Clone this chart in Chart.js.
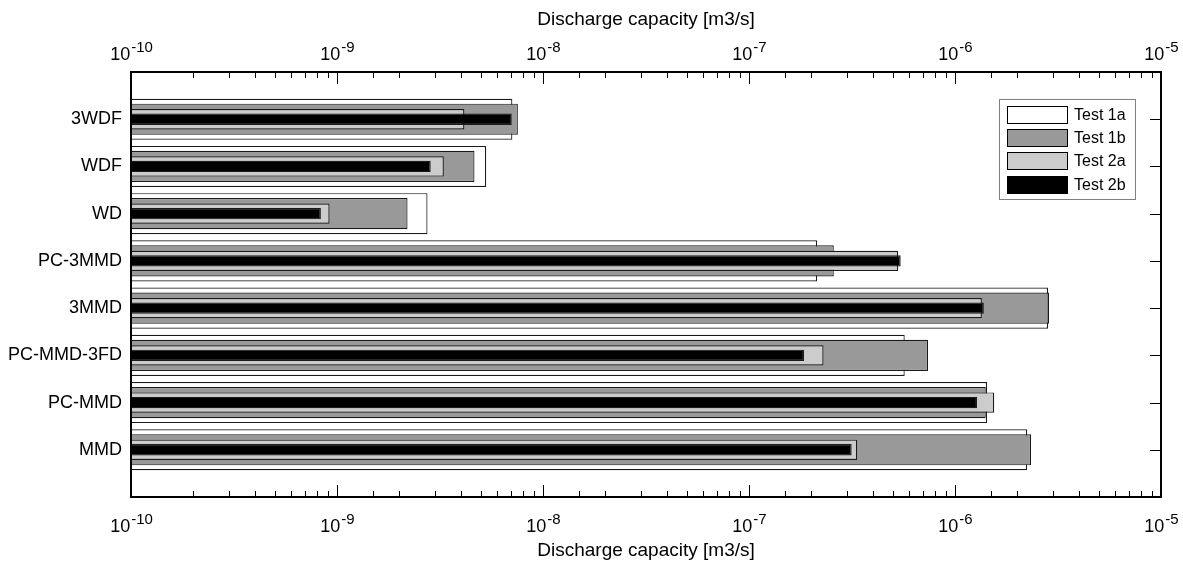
<!DOCTYPE html>
<html>
<head>
<meta charset="utf-8">
<script src="https://cdn.jsdelivr.net/npm/chart.js@4.4.1/dist/chart.umd.min.js"></script>
<style>
  html, body { margin: 0; padding: 0; background: #fff; }
  #wrap { width: 1183px; height: 566px; position: relative; }
</style>
</head>
<body>
<div id="wrap"><canvas id="capChart"></canvas></div>
<script>

// data (m3/s)

const categories = ["3WDF", "WDF", "WD", "PC-3MMD", "3MMD", "PC-MMD-3FD", "PC-MMD", "MMD"];

const test1a = [7.1e-9, 5.3e-9, 2.75e-9, 2.14e-7, 2.83e-6, 5.7e-7, 1.43e-6, 2.24e-6];
const test1b = [7.55e-9, 4.65e-9, 2.2e-9, 2.58e-7, 2.86e-6, 7.4e-7, 1.41e-6, 2.34e-6];
const test2a = [4.15e-9, 3.3e-9, 9.2e-10, 5.3e-7, 1.35e-6, 2.3e-7, 1.55e-6, 3.35e-7];
const test2b = [7.05e-9, 2.85e-9, 8.35e-10, 5.45e-7, 1.38e-6, 1.85e-7, 1.28e-6, 3.15e-7];

const xTickExps = [-10, -9, -8, -7, -6, -5];

const axisTitle = "Discharge capacity [m3/s]";

const FONT = "'Liberation Sans', Arial, Helvetica, sans-serif";

function points(values) {
  return values.map((v, i) => ({ x: v, y: i }));
}

function isMajor(v) {
  const l = Math.log10(v);
  return Math.abs(l - Math.round(l)) < 1e-6;
}

// tick marks, power-of-ten labels and the frame

const axisDecor = {
  id: "axisDecor",
  afterDatasetsDraw(chart) {
    const ctx = chart.ctx;
    const a = chart.chartArea;
    const xs = chart.scales.x;
    const ys = chart.scales.y;

    ctx.save();
    ctx.strokeStyle = "#000";
    ctx.lineWidth = 1;

    xs.ticks.forEach(t => {
      const px = Math.round(xs.getPixelForValue(t.value)) + 0.5;
      const len = isMajor(t.value) ? 12 : 6;
      ctx.beginPath();
      ctx.moveTo(px, a.bottom);
      ctx.lineTo(px, a.bottom - len);
      ctx.moveTo(px, a.top);
      ctx.lineTo(px, a.top + len);
      ctx.stroke();
    });

    categories.forEach((c, i) => {
      const py = Math.round(ys.getPixelForValue(i)) + 0.5;
      ctx.beginPath();
      ctx.moveTo(a.right, py);
      ctx.lineTo(a.right - 11, py);
      ctx.stroke();
    });

    ctx.lineWidth = 2;
    ctx.strokeRect(a.left, a.top, a.right - a.left, a.bottom - a.top);

    // 10^n labels, top and bottom
    ctx.fillStyle = "#000";
    ctx.textBaseline = "alphabetic";
    ctx.textAlign = "left";
    xTickExps.forEach(e => {
      const px = xs.getPixelForValue(Math.pow(10, e));
      ctx.font = "18px " + FONT;
      const wBase = ctx.measureText("10").width;
      ctx.font = "15px " + FONT;
      const wExp = ctx.measureText(String(e)).width;
      const x0 = px - (wBase + wExp) / 2;
      [a.top - 12, a.bottom + 35].forEach(base => {
        ctx.font = "18px " + FONT;
        ctx.fillText("10", x0, base);
        ctx.font = "15px " + FONT;
        ctx.fillText(String(e), x0 + wBase + 1, base - 8.5);
      });
    });

    ctx.restore();
  }
};

// legend box inside the plot

const legendBox = {
  id: "legendBox",
  afterDraw(chart) {
    const ctx = chart.ctx;
    const a = chart.chartArea;
    const boxW = 136;
    const boxH = 100;
    const x0 = Math.round(a.right - 162);
    const y0 = Math.round(a.top + 27);

    ctx.save();
    ctx.fillStyle = "#fff";
    ctx.fillRect(x0, y0, boxW, boxH);
    ctx.strokeStyle = "#808080";
    ctx.lineWidth = 1;
    ctx.strokeRect(x0 + 0.5, y0 + 0.5, boxW, boxH);

    ctx.font = "16px " + FONT;
    ctx.textBaseline = "middle";
    ctx.textAlign = "left";

    chart.data.datasets.forEach((ds, i) => {
      const ry = Math.round(y0 + 7 + i * 23.2);
      ctx.fillStyle = ds.backgroundColor;
      ctx.fillRect(x0 + 8, ry, 60, 17);
      ctx.strokeStyle = "#000";
      ctx.strokeRect(x0 + 8.5, ry + 0.5, 60, 17);
      ctx.fillStyle = "#000";
      ctx.fillText(ds.label, x0 + 75, ry + 9.5);
    });

    ctx.restore();
  }
};

function barSet(label, values, fill, pct, order) {
  return {
    label: label,
    data: points(values),
    backgroundColor: fill,
    borderColor: "#1a1a1a",
    borderWidth: 1.2,
    barPercentage: pct,
    categoryPercentage: 1,
    order: order
  };
}

const logAxis = (pos, pad) => ({
  type: "logarithmic",
  position: pos,
  min: 1e-10,
  max: 1e-5,
  ticks: { display: false },
  grid: { display: false, drawTicks: false },
  border: { display: false },
  title: {
    display: true,
    text: axisTitle,
    color: "#000",
    font: { size: 19, family: FONT },
    padding: pad
  },
  afterFit: s => { s.height = pos === "top" ? 72 : 69; }
});

const catAxis = (pos, showLabels) => ({
  type: "linear",
  position: pos,
  reverse: true,
  offset: false,
  min: -1,
  max: 8,
  grid: { display: false, drawTicks: false },
  border: { display: false },
  ticks: {
    display: showLabels,
    stepSize: 1,
    padding: 9,
    color: "#000",
    font: { size: 18, family: FONT },
    callback: v => categories[v] || ""
  },
  afterFit: s => { s.width = pos === "left" ? 131 : 22; }
});

new Chart(

  document.getElementById("capChart"),

  {

    type: "bar",

    data: {

      datasets: [
        barSet("Test 1a", test1a, "#ffffff", 0.87, 3),
        barSet("Test 1b", test1b, "#999999", 0.66, 2),
        barSet("Test 2a", test2a, "#cccccc", 0.43, 1),
        barSet("Test 2b", test2b, "#000000", 0.24, 0)
      ]

    },

    options: {

      indexAxis: "y",
      responsive: true,
      maintainAspectRatio: false,
      animation: false,
      layout: { padding: 0 },

      datasets: { bar: { grouped: false } },

      plugins: {
        legend: { display: false },
        tooltip: { enabled: false }
      },

      scales: {

        x: logAxis("bottom", { top: 0, bottom: 4 }),

        x2: logAxis("top", { top: 8, bottom: 0 }),

        y: catAxis("left", true),

        y2: catAxis("right", false)

      }

    },

    plugins: [axisDecor, legendBox]

  }

);

</script>
</body>
</html>
